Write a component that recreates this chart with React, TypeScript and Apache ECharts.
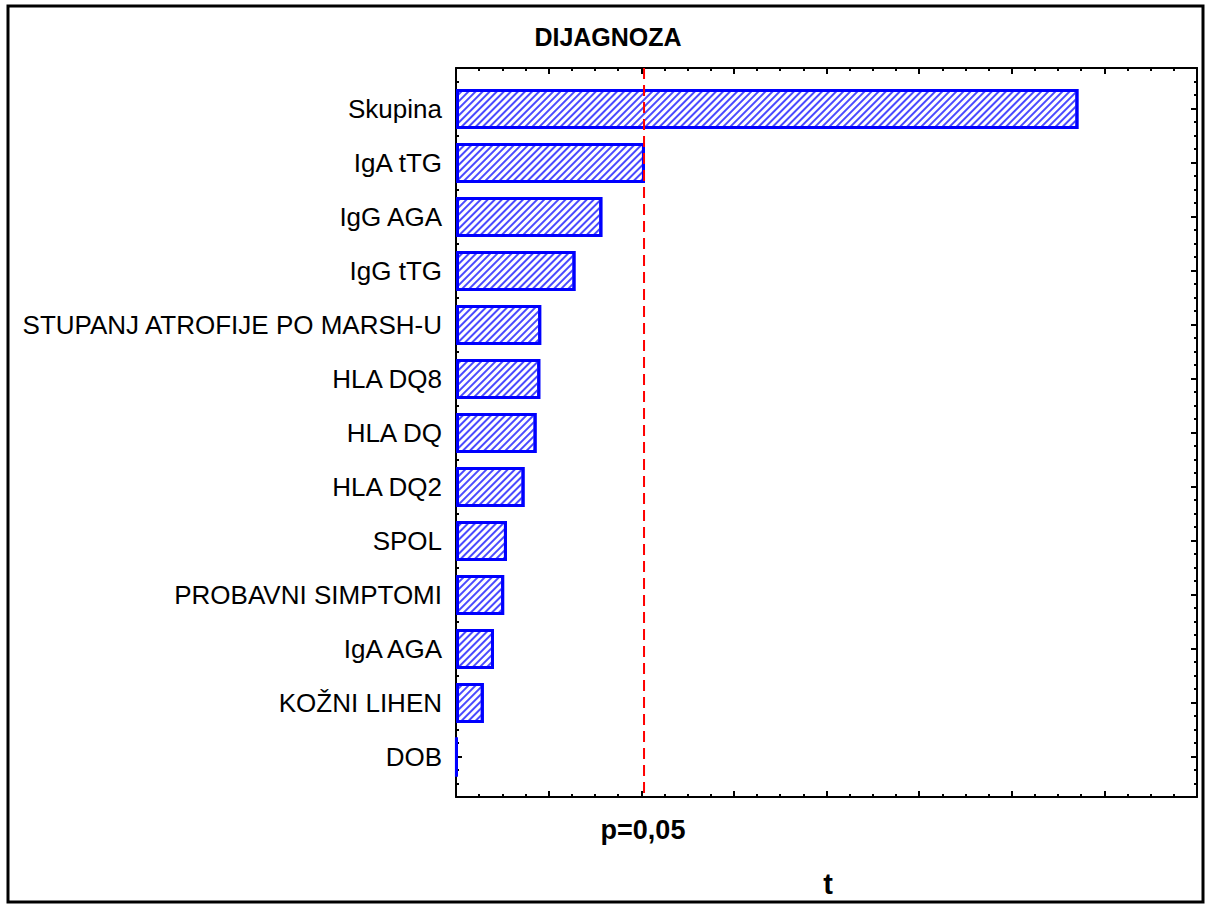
import React, { useEffect, useRef } from "react";
import * as echarts from "echarts";

const categories = [
  "Skupina",
  "IgA tTG",
  "IgG AGA",
  "IgG tTG",
  "STUPANJ ATROFIJE PO MARSH-U",
  "HLA DQ8",
  "HLA DQ",
  "HLA DQ2",
  "SPOL",
  "PROBAVNI SIMPTOMI",
  "IgA AGA",
  "KOŽNI LIHEN",
  "DOB",
];
const tValues = [6.72, 2.04, 1.58, 1.29, 0.92, 0.91, 0.87, 0.74, 0.55, 0.52, 0.41, 0.3, 0.01];
const criticalT = 2.03;
const criticalLabel = "p=0,05";
const titleText = "DIJAGNOZA";
const axisName = "t";
const xMin = 0;
const xMax = 8;

const FONT = "'Liberation Sans', Arial, sans-serif";

export default function App() {
  const ref = useRef<HTMLDivElement>(null);
  useEffect(() => {
    if (!ref.current) return;
    const chart = echarts.init(ref.current, undefined, { renderer: "svg" });
    const gridLeft = 456;
    const gridWidth = 741;
    const nCat = categories.length;
    const band = 54;
    const pad = 0.75;
    const frameTop = 68;
    const frameHeight = Math.round(band * (nCat - 1 + 2 * pad));
    const barTop = frameTop + Math.round(band * (pad - 0.5));
    const black = "#000000";

    const frameX = (position: "bottom" | "top") => ({
      gridIndex: 0,
      type: "value",
      position,
      min: xMin,
      max: xMax,
      interval: 1,
      axisLine: { show: true, onZero: false, lineStyle: { color: black, width: 2 } },
      axisTick: { show: true, inside: true, length: 6, lineStyle: { color: black, width: 2 } },
      minorTick: { show: true, splitNumber: 4, length: 3, lineStyle: { color: black, width: 2 } },
      axisLabel: { show: false },
      splitLine: { show: false },
    });
    const frameY = (position: "left" | "right") => ({
      gridIndex: 0,
      type: "value",
      position,
      inverse: true,
      min: -pad,
      max: nCat - 1 + pad,
      interval: 0.25,
      axisLine: { show: true, onZero: false, lineStyle: { color: black, width: 2 } },
      axisTick: { show: true, inside: true, length: 3, lineStyle: { color: black, width: 2 } },
      axisLabel: { show: false },
      splitLine: { show: false },
    });
    const catY = (position: "left" | "right", labels: boolean) => ({
      gridIndex: 1,
      type: "category",
      position,
      inverse: true,
      data: categories,
      axisLine: { show: false },
      axisTick: { show: true, inside: true, alignWithLabel: true, length: 6, lineStyle: { color: black, width: 2 } },
      axisLabel: {
        show: labels,
        color: black,
        fontFamily: FONT,
        fontSize: 26,
        margin: 14,
      },
      splitLine: { show: false },
    });

    chart.setOption({
      animation: false,
      backgroundColor: "#ffffff",
      aria: { enabled: true, decal: { show: true } },
      grid: [
        { left: gridLeft, top: frameTop, width: gridWidth, height: frameHeight },
        { left: gridLeft, top: barTop, width: gridWidth, height: band * nCat },
      ],
      xAxis: [
        frameX("bottom"),
        frameX("top"),
        { gridIndex: 1, type: "value", min: xMin, max: xMax, show: false },
      ],
      yAxis: [frameY("left"), frameY("right"), catY("left", true), catY("right", false)],
      series: [
        {
          type: "bar",
          xAxisIndex: 2,
          yAxisIndex: 2,
          data: tValues,
          barWidth: 40,
          itemStyle: {
            color: "#ffffff",
            borderColor: "#0000ff",
            borderWidth: 3,
            decal: {
              symbol: "rect",
              symbolSize: 1,
              color: "#4a4aff",
              backgroundColor: "#ffffff",
              dashArrayX: [1, 0],
              dashArrayY: [2, 2.5],
              rotation: -Math.PI / 4,
            },
          },
          z: 2,
        },
        {
          type: "line",
          xAxisIndex: 0,
          yAxisIndex: 0,
          data: [
            [criticalT, -pad],
            [criticalT, nCat - 1 + pad],
          ],
          symbol: "none",
          lineStyle: { color: "#ff0000", width: 2, type: [11, 6] },
          z: 5,
        },
      ],
      graphic: [
        {
          type: "rect",
          shape: { x: 8, y: 6, width: 1195, height: 896 },
          style: { fill: "none", stroke: black, lineWidth: 3 },
          silent: true,
        },
        {
          type: "text",
          x: 608,
          y: 37,
          style: {
            text: titleText,
            font: `bold 25px ${FONT}`,
            fill: black,
            align: "center",
            verticalAlign: "middle",
          },
        },
        {
          type: "text",
          x: 643,
          y: 830,
          style: {
            text: criticalLabel,
            font: `bold 27px ${FONT}`,
            fill: black,
            align: "center",
            verticalAlign: "middle",
          },
        },
        {
          type: "text",
          x: 828,
          y: 884,
          style: {
            text: axisName,
            font: `bold 29px ${FONT}`,
            fill: black,
            align: "center",
            verticalAlign: "middle",
          },
        },
      ],
    });
    return () => chart.dispose();
  }, []);
  return (
    <div
      ref={ref}
      style={{ position: "fixed", left: 0, top: 0, width: 1208, height: 911, background: "#fff" }}
    />
  );
}
